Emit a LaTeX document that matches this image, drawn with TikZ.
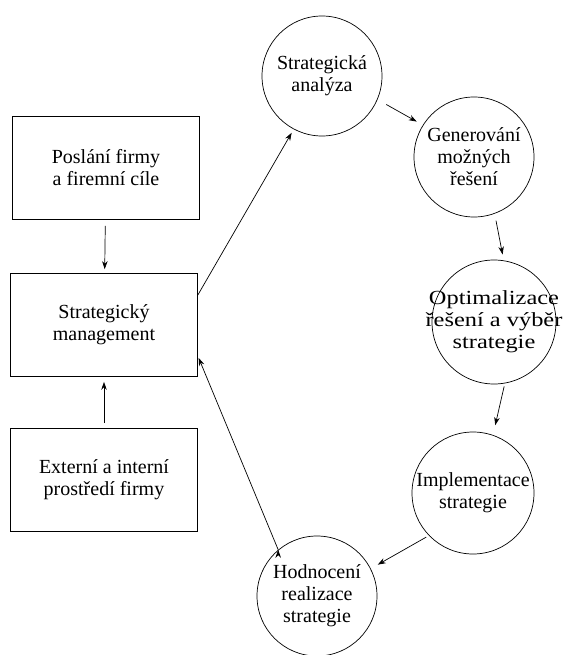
\documentclass[tikz,border=0pt]{standalone}
\usepackage{fontspec}
\setmainfont{Liberation Serif}
\usetikzlibrary{arrows.meta}

\newcommand{\widetext}[1]{\makebox[0pt]{\scalebox{1.22}[1]{\begin{tabular}{@{}c@{}}#1\end{tabular}}}}

\begin{document}
\begin{tikzpicture}[x=1pt, y=-1pt, line width=0.7pt,
         font=\fontsize{20}{22}\selectfont,
         >={Stealth[length=8pt, width=5.5pt]},
         box/.style = {draw, minimum width=187pt, minimum height=103pt,
                       inner sep=0pt, align=center},
         phase/.style = {draw, circle, minimum size=120pt,
                         inner sep=0pt, align=center}]
      \useasboundingbox (0,0) rectangle (563,655);

      % left column
      \node[box] (mise)  at (106,168) {Poslání firmy\\a firemní cíle};
      \node[box] (sm)    at (104,325) {Strategický\\management};
      \node[box] (okoli) at (104,480) {Externí a interní\\prostředí firmy};

      % process cycle
      \node[phase] (analyza) at (322,76)  {Strategická\\analýza};
      \node[phase] (reseni)  at (474,157) {Generování\\možných\\řešení};
      \node[phase, minimum size=124pt] (vyber) at (494,322)
            {\widetext{Optimalizace\\řešení a výběr\\strategie}};
      \node[phase, minimum size=122pt] (impl) at (473,493) {Implementace\\strategie};
      \node[phase] (hodn)    at (317,596) {Hodnocení\\realizace\\strategie};

      \draw[->]
      (mise) edge[shorten <=6pt, shorten >=4pt] (sm)
      (okoli) edge[shorten <=5pt, shorten >=5pt] (sm)
      ([yshift=30pt]sm.east) edge[shorten >=4pt] (analyza.-118)
      (analyza.-23) edge[shorten <=10pt, shorten >=7pt] (reseni.148)
      (reseni.-70) edge[shorten <=7pt, shorten >=6pt] (vyber.81)
      (vyber.-80) edge[shorten <=3pt, shorten >=10pt] (impl.71)
      (impl.-136) edge[shorten <=3pt, shorten >=8pt] (hodn.27)
      (hodn.130) edge[shorten >=2pt] ([yshift=-31pt]sm.east);
    \end{tikzpicture}
\end{document}
